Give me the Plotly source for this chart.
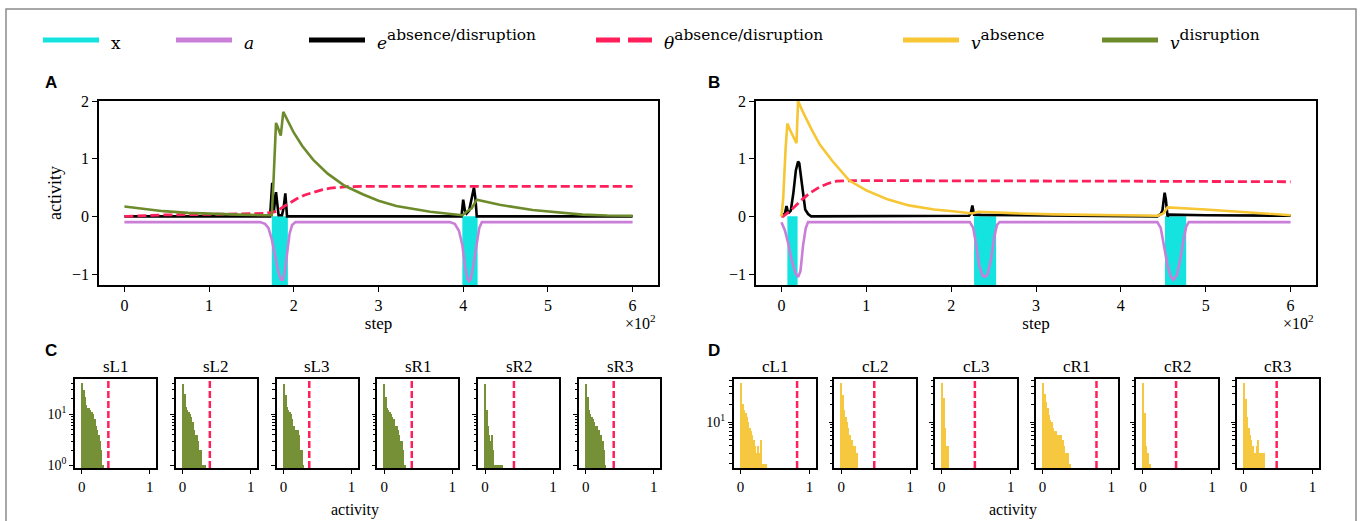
import plotly.graph_objects as go

W, H = 1363, 521

# ---------------- colours ----------------
CYAN = "#14e3df"
PURPLE = "#c97fd8"
BLACK = "#000000"
RED = "#ff1f5b"
YELLOW = "#f6c635"
GREEN = "#6e8b2c"

# ---------------- panel A (disruption) ----------------
stim_steps_A = [0, 174, 174, 193, 193, 399, 399, 417, 417, 600]
stim_vals_A = [0, 0, -1.5, -1.5, 0, 0, -1.5, -1.5, 0, 0]

a_steps_A = [0, 160, 166, 170, 174, 178, 182, 185, 187, 189, 192, 195, 198, 202,
             384, 390, 395, 399, 402, 405, 407, 409, 412, 416, 419, 422, 600]
a_vals_A = [-0.1, -0.1, -0.13, -0.2, -0.4, -0.7, -0.98, -1.1, -1.1, -1.0, -0.65, -0.3, -0.15, -0.1,
            -0.1, -0.13, -0.25, -0.5, -0.85, -1.08, -1.12, -1.08, -0.85, -0.48, -0.2, -0.1, -0.1]

e_steps_A = [0, 172, 174.5, 176.5, 179, 182, 186, 188, 190, 192,
             398, 400, 402, 404, 407, 410, 412.7, 414.5, 416, 600]
e_vals_A = [0, 0, 0.58, 0.1, 0.42, 0.02, 0.02, 0.15, 0.4, 0.0,
            0.0, 0.29, 0.1, 0.05, 0.1, 0.35, 0.5, 0.3, 0.0, 0.0]

th_steps_A = [0, 46, 100, 164, 175, 180, 186, 192, 198, 204, 213, 223, 233, 243, 253, 263, 280, 600]
th_vals_A = [0, 0.025, 0.035, 0.05, 0.07, 0.09, 0.15, 0.2, 0.26, 0.31, 0.37, 0.42, 0.46, 0.49,
             0.505, 0.515, 0.52, 0.52]

v_steps_A = [0, 20, 46, 75, 105, 135, 164, 174, 176, 179, 181, 184.6, 187.6, 192, 200, 210, 223,
             240, 260, 282, 300, 321, 340, 361, 380, 399, 404, 410, 416, 443, 482, 521, 541, 570, 600]
v_vals_A = [0.17, 0.13, 0.09, 0.06, 0.04, 0.03, 0.02, 0.02, 0.6, 1.62, 1.55, 1.4, 1.81, 1.69, 1.45,
            1.22, 0.98, 0.74, 0.53, 0.38, 0.27, 0.18, 0.13, 0.08, 0.05, 0.02, 0.08, 0.14, 0.29,
            0.2, 0.11, 0.05, 0.03, 0.015, 0.01]

# ---------------- panel B (absence) ----------------
stim_steps_B = [0, 7, 7, 19, 19, 227, 227, 253, 253, 452, 452, 477, 477, 600]
stim_vals_B = [0, 0, -1.5, -1.5, 0, 0, -1.5, -1.5, 0, 0, -1.5, -1.5, 0, 0]

a_steps_B = [0, 4, 8, 12, 17, 19.6, 22.4, 25.5, 28.7, 31.4,
             222, 226, 229, 233, 237, 240, 243, 247, 251, 254, 257,
             443, 447, 451, 455, 459, 462, 466, 470, 474, 477, 480, 600]
a_vals_B = [-0.1, -0.24, -0.47, -0.76, -1.0, -1.05, -0.95, -0.5, -0.2, -0.1,
            -0.1, -0.2, -0.45, -0.85, -1.03, -1.05, -1.0, -0.75, -0.35, -0.15, -0.1,
            -0.1, -0.2, -0.5, -0.85, -1.05, -1.1, -1.02, -0.75, -0.4, -0.18, -0.1, -0.1]

e_steps_B = [0, 4, 6, 8, 11, 14, 17, 19.6, 21, 23, 25.5, 28, 31.4, 35,
             221, 223, 225, 227, 235, 300, 340,
             443, 447, 449, 451.6, 453, 455, 457, 500, 600]
e_vals_B = [0, 0.05, 0.18, 0.05, 0.1, 0.4, 0.8, 0.95, 0.92, 0.7, 0.35, 0.12, 0.04, 0.0,
            0.01, 0.05, 0.19, 0.03, 0.025, 0.015, 0.005,
            0.0, 0.04, 0.1, 0.41, 0.3, 0.0, 0.03, 0.02, 0.01]

th_steps_B = [0, 2, 10, 17.6, 25, 33, 45, 55, 65, 85, 200, 400, 600]
th_vals_B = [0, 0, 0.09, 0.2, 0.3, 0.4, 0.51, 0.57, 0.61, 0.62, 0.62, 0.61, 0.6]

v_steps_B = [0, 2, 5, 7, 10, 14, 17.7, 19.6, 25, 35, 45, 60, 80, 100, 124, 150, 180, 202,
             222, 225, 232, 250, 281, 320, 400, 444, 450, 455, 500, 550, 600]
v_vals_B = [0, 0.3, 1.2, 1.61, 1.5, 1.38, 1.27, 2.0, 1.82, 1.52, 1.25, 0.96, 0.62, 0.45, 0.3,
            0.19, 0.12, 0.09, 0.06, 0.05, 0.08, 0.065, 0.05, 0.035, 0.02, 0.01, 0.05, 0.155,
            0.12, 0.07, 0.02]

# ---------------- histograms (bin width 0.02 starting at 0) ----------------
BIN_W = 0.02
hist_C_names = ["sL1", "sL2", "sL3", "sR1", "sR2", "sR3"]
hist_C_counts = [
    [41, 30, 22, 15, 13, 13, 12, 11, 10, 8, 6, 5, 4, 3, 2, 1],
    [40, 25, 14, 12, 11, 10, 9, 7, 5, 4, 4, 3, 2, 2, 1, 1, 1],
    [40, 24, 14, 12, 11, 10, 8, 6, 5, 5, 5, 4, 2, 2, 1],
    [40, 22, 13, 12, 11, 10, 9, 8, 6, 6, 5, 4, 3, 3, 2, 1],
    [40, 12, 6, 4, 3, 4, 2, 1, 1, 1, 1, 1, 1],
    [40, 22, 12, 10, 9, 8, 7, 6, 6, 5, 4, 4, 3, 2, 1],
]
hist_C_thresh = [0.39, 0.40, 0.38, 0.405, 0.425, 0.41]

hist_D_names = ["cL1", "cL2", "cL3", "cR1", "cR2", "cR3"]
hist_D_counts = [
    [45, 20, 16, 14, 12, 10, 8, 7, 6, 5, 4, 3, 4, 3, 5, 2, 2, 2, 2],
    [45, 28, 16, 12, 10, 8, 6, 5, 5, 4, 4, 3],
    [45, 25, 8, 4, 4],
    [45, 30, 22, 17, 13, 11, 10, 8, 7, 7, 6, 6, 5, 6, 5, 4, 3, 3, 3, 2],
    [45, 14, 4, 3, 2, 2],
    [45, 24, 12, 8, 6, 5, 4, 3, 3, 4, 5, 3, 3, 3, 3],
]
hist_D_thresh = [0.82, 0.48, 0.48, 0.785, 0.48, 0.48]

x_tickvals = [0, 100, 200, 300, 400, 500, 600]
x_ticktext = ["0", "1", "2", "3", "4", "5", "6"]
y_tickvals = [-1, 0, 1, 2]
y_ticktext = ["\u22121", "0", "1", "2"]

# ---------------- helpers ----------------
SERIF = "Liberation Serif"
LEG_FONT = "DejaVu Serif"


def px(p):
    return p / W


def py(p):
    return 1 - p / H


def xd(p0, p1):
    return [px(p0), px(p1)]


def yd(p0, p1):
    return [py(p1), py(p0)]


def axis(**kw):
    d = dict(showline=True, linecolor="black", linewidth=1.5, mirror=True,
             ticks="outside", ticklen=5, tickwidth=1.2, tickcolor="black",
             showgrid=False, zeroline=False, automargin=False,
             tickfont=dict(family=SERIF, size=16, color="black"))
    d.update(kw)
    return d


traces = []
layout = dict(width=W, height=H, margin=dict(l=0, r=0, t=0, b=0, pad=0),
              paper_bgcolor="white", plot_bgcolor="white",
              showlegend=False, bargap=0)
shapes = []
annotations = []


def add_timeseries(ax, stim_s, stim_v, a_s, a_v, e_s, e_v, th_s, th_v, v_s, v_v, vcol):
    xa, ya = ("x", "y") if ax == 1 else (f"x{ax}", f"y{ax}")
    traces.append(go.Scatter(x=stim_s, y=stim_v, mode="lines", line=dict(width=0, color=CYAN),
                             fill="tozeroy", fillcolor=CYAN, xaxis=xa, yaxis=ya, name="x"))
    traces.append(go.Scatter(x=a_s, y=a_v, mode="lines", line=dict(width=2.6, color=PURPLE),
                             xaxis=xa, yaxis=ya, name="a"))
    traces.append(go.Scatter(x=e_s, y=e_v, mode="lines", line=dict(width=2.6, color=BLACK),
                             xaxis=xa, yaxis=ya, name="e"))
    traces.append(go.Scatter(x=th_s, y=th_v, mode="lines",
                             line=dict(width=2.8, color=RED, dash="9px,4px"),
                             xaxis=xa, yaxis=ya, name="theta"))
    traces.append(go.Scatter(x=v_s, y=v_v, mode="lines", line=dict(width=2.6, color=vcol),
                             xaxis=xa, yaxis=ya, name="v"))


add_timeseries(1, stim_steps_A, stim_vals_A, a_steps_A, a_vals_A, e_steps_A, e_vals_A,
               th_steps_A, th_vals_A, v_steps_A, v_vals_A, GREEN)
add_timeseries(2, stim_steps_B, stim_vals_B, a_steps_B, a_vals_B, e_steps_B, e_vals_B,
               th_steps_B, th_vals_B, v_steps_B, v_vals_B, YELLOW)

top_panels = [(1, 99, 658), (2, 756, 1316)]
for idx, l, r in top_panels:
    xk = "xaxis" if idx == 1 else f"xaxis{idx}"
    yk = "yaxis" if idx == 1 else f"yaxis{idx}"
    xa_id = "x" if idx == 1 else f"x{idx}"
    ya_id = "y" if idx == 1 else f"y{idx}"
    layout[xk] = axis(domain=xd(l, r), range=[-30, 630], anchor=ya_id,
                      tickvals=x_tickvals, ticktext=x_ticktext,
                      title=dict(text="step", font=dict(family=SERIF, size=17, color="black"),
                                 standoff=4))
    ykw = dict(domain=yd(101, 285), range=[-1.19, 2.0], anchor=xa_id,
               tickvals=y_tickvals, ticktext=y_ticktext)
    if idx == 1:
        ykw["title"] = dict(text="activity", font=dict(family=SERIF, size=18, color="black"),
                            standoff=6)
    layout[yk] = axis(**ykw)
    annotations.append(dict(xref="paper", yref="paper", x=px(r), y=py(322), xanchor="right",
                            yanchor="middle", showarrow=False, text="\u00d710<sup>2</sup>",
                            font=dict(family=SERIF, size=16, color="black")))


def add_hists(first_ax, left0, spacing, width, names, counts, thresh, color, yrange,
              major, minor, show_label_text):
    for k in range(6):
        i = first_ax + k
        xa, ya = f"x{i}", f"y{i}"
        l = left0 + spacing * k
        r = l + width
        cts = counts[k]
        centers = [BIN_W / 2 + BIN_W * j for j in range(len(cts))]
        traces.append(go.Bar(x=centers, y=cts, width=BIN_W, marker=dict(color=color, line=dict(width=0)),
                             opacity=0.95, xaxis=xa, yaxis=ya, name=names[k]))
        layout[f"xaxis{i}"] = axis(domain=xd(l, r), range=[-0.1, 1.09], anchor=ya,
                                   tickvals=[0, 1], ticktext=["0", "1"], ticklen=4,
                                   tickfont=dict(family=SERIF, size=15, color="black"))
        ykw = dict(domain=yd(379, 468), type="log", range=yrange, anchor=xa,
                   tickvals=major, ticklen=4,
                   minor=dict(tickvals=minor, ticklen=2.5, ticks="outside", tickcolor="black",
                              tickwidth=1, showgrid=False),
                   tickfont=dict(family=SERIF, size=14, color="black"))
        if k == 0:
            ykw["ticktext"] = show_label_text
        else:
            ykw["showticklabels"] = False
        layout[f"yaxis{i}"] = axis(**ykw)
        shapes.append(dict(type="line", xref=xa, yref=f"y{i} domain", x0=thresh[k], x1=thresh[k],
                           y0=0, y1=1, line=dict(color=RED, width=2.5, dash="7px,3px")))
        annotations.append(dict(xref="paper", yref="paper", x=px((l + r) / 2), y=py(366),
                                xanchor="center", yanchor="middle", showarrow=False,
                                text=names[k], font=dict(family=SERIF, size=17, color="black")))


add_hists(3, 75, 100.8, 81, hist_C_names, hist_C_counts, hist_C_thresh, GREEN,
          [-0.05, 1.69], [1, 10], [2, 3, 4, 5, 6, 7, 8, 9, 20, 30, 40],
          ["10<sup>0</sup>", "10<sup>1</sup>"])
add_hists(9, 733.7, 100.6, 82, hist_D_names, hist_D_counts, hist_D_thresh, YELLOW,
          [0.23, 1.72], [10], [2, 3, 4, 5, 6, 7, 8, 9, 20, 30, 40, 50],
          ["10<sup>1</sup>"])

for xc in (355, 1013):
    annotations.append(dict(xref="paper", yref="paper", x=px(xc), y=py(510), xanchor="center",
                            yanchor="middle", showarrow=False, text="activity",
                            font=dict(family=SERIF, size=16, color="black")))

# panel letters
for letter, lx, ly in (("A", 43, 82), ("B", 706, 82), ("C", 43, 350), ("D", 706, 350)):
    annotations.append(dict(xref="paper", yref="paper", x=px(lx), y=py(ly), xanchor="left",
                            yanchor="middle", showarrow=False, text=f"<b>{letter}</b>",
                            font=dict(family="Liberation Sans", size=17, color="black")))

# figure frame
shapes.append(dict(type="rect", xref="paper", yref="paper", x0=px(6), x1=px(1356), y0=-0.2,
                   y1=py(9), line=dict(color="#8c8c8c", width=1.5), fillcolor="rgba(0,0,0,0)",
                   layer="below"))

# legend (drawn by hand to match the reference spacing)
LEG_Y = 40
BASE = "<span style='font-size:17px'>{}</span>"
legend_items = [
    (43, CYAN, "solid", BASE.format("x")),
    (176, PURPLE, "solid", BASE.format("<i>a</i>")),
    (309, BLACK, "solid", BASE.format("<i>e</i>") + "<sup>absence/disruption</sup>"),
    (596, RED, "24px,8px", BASE.format("<i>\u03b8</i>") + "<sup>absence/disruption</sup>"),
    (903, YELLOW, "solid", BASE.format("<i>v</i>") + "<sup>absence</sup>"),
    (1102, GREEN, "solid", BASE.format("<i>v</i>") + "<sup>disruption</sup>"),
]
for lx, col, dash, label in legend_items:
    shapes.append(dict(type="line", xref="paper", yref="paper", x0=px(lx), x1=px(lx + 56),
                       y0=py(LEG_Y), y1=py(LEG_Y), line=dict(color=col, width=5, dash=dash)))
    annotations.append(dict(xref="paper", yref="paper", x=px(lx + 66), y=py(LEG_Y + 3),
                            yanchor="bottom", xanchor="left", showarrow=False, text=label,
                            yshift=-12,
                            font=dict(family=LEG_FONT, size=22, color="black")))

layout["shapes"] = shapes
layout["annotations"] = annotations

fig = go.Figure(data=traces, layout=layout)
fig.write_html(
    "out.html",
    config={"displayModeBar": False},
    post_script="document.body.style.margin='0';document.body.style.overflow='hidden';",
)
